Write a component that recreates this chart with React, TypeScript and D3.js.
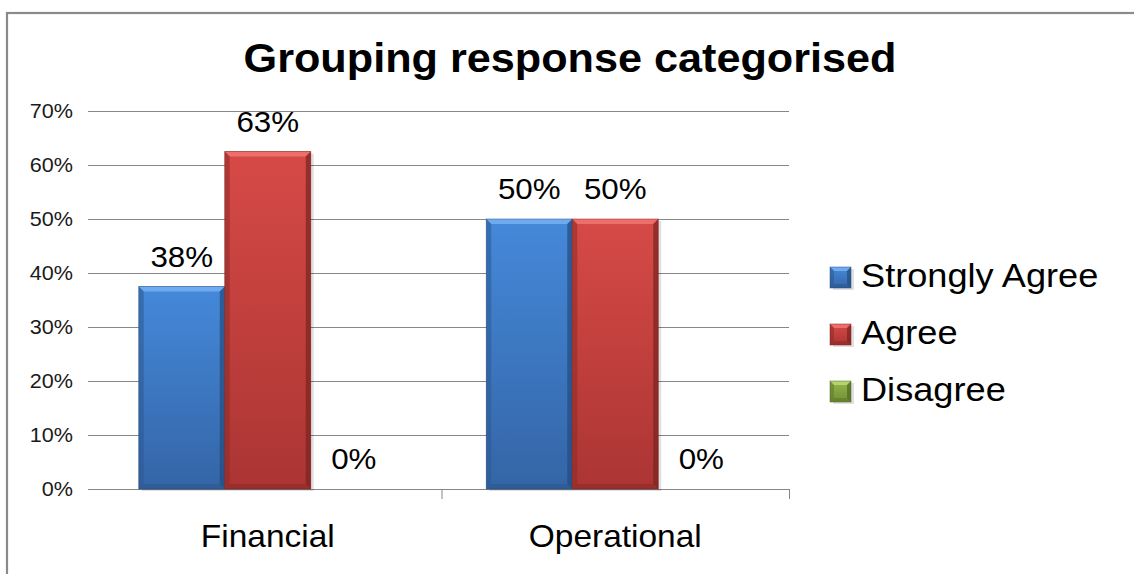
import React from "react";
import * as d3 from "d3";

const title = "Grouping response categorised";
const categories = ["Financial", "Operational"];
const seriesNames = ["Strongly Agree", "Agree", "Disagree"];
const strongly = [0.375, 0.5];
const agree = [0.625, 0.5];
const disagree = [0, 0];
const yTicks = [0, 0.1, 0.2, 0.3, 0.4, 0.5, 0.6, 0.7];

const W = 1134, H = 574;
const SX = 1.08;
const FONT = "'Liberation Sans', Arial, sans-serif";

const palette = [
  { light: "#6eaaf0", top: "#4589da", bottom: "#3465a6", edge: "#2b5790", dark: "#244b7e" },
  { light: "#ee6e6b", top: "#d64a47", bottom: "#ab3533", edge: "#8f2927", dark: "#7a2220" },
  { light: "#b5d46e", top: "#93b64c", bottom: "#728f36", edge: "#5f7a2b", dark: "#4f6624" },
];

function Bevel({ x, y, w, h, c, id, b = 5 }: any) {
  if (h <= 0) return null;
  const bb = Math.min(b, h / 2, w / 2);
  return (
    <g>
      <rect x={x + 3} y={y + 2} width={w} height={h} fill="#000" opacity={0.12} />
      <rect x={x} y={y} width={w} height={h} fill={`url(#${id})`} />
      <polygon points={`${x},${y} ${x + w},${y} ${x + w - bb},${y + bb} ${x + bb},${y + bb}`} fill={c.light} />
      <polygon points={`${x},${y} ${x + bb},${y + bb} ${x + bb},${y + h - bb} ${x},${y + h}`} fill={c.edge} opacity={0.55} />
      <polygon points={`${x + w},${y} ${x + w - bb},${y + bb} ${x + w - bb},${y + h - bb} ${x + w},${y + h}`} fill={c.dark} opacity={0.7} />
      <polygon points={`${x},${y + h} ${x + bb},${y + h - bb} ${x + w - bb},${y + h - bb} ${x + w},${y + h}`} fill={c.edge} opacity={0.6} />
      <rect x={x} y={y} width={w} height={h} fill="none" stroke={c.dark} strokeWidth={0.8} opacity={0.6} />
    </g>
  );
}

function T({ x, y, size, anchor = "start", bold = false, children, fill = "#000" }: any) {
  return (
    <text
      transform={`translate(${x},${y}) scale(${SX},1)`}
      fontSize={size}
      fontFamily={FONT}
      fontWeight={bold ? "bold" : "normal"}
      textAnchor={anchor}
      fill={fill}
    >
      {children}
    </text>
  );
}

export default function App() {
  const y = d3.scaleLinear().domain([0, 0.7]).range([489, 111]);
  const x0 = d3.scaleBand().domain(categories).range([94, 789]).paddingInner(0).paddingOuter(0);
  const groupW = 258;
  const x1 = d3.scaleBand().domain(seriesNames).range([0, groupW]).padding(0);
  const values = [strongly, agree, disagree];
  const fmt = d3.format(".0%");
  const gridLeft = 88;

  return (
    <svg width={W} height={H} style={{ position: "absolute", left: 0, top: 0, display: "block" }}>
      <defs>
        {palette.map((c, i) => (
          <linearGradient key={i} id={`g${i}`} x1="0" y1="0" x2="0" y2="1">
            <stop offset="0%" stopColor={c.top} />
            <stop offset="100%" stopColor={c.bottom} />
          </linearGradient>
        ))}
      </defs>
      <rect x={0} y={0} width={W} height={H} fill="#fff" />
      <rect x={7} y={13} width={W + 20} height={H + 20} fill="#fff" stroke="#8a8a8a" strokeWidth={2.2} />

      <T x={570} y={72} size={40} anchor="middle" bold>{title}</T>

      {yTicks.map((t) => (
        <g key={t}>
          <line x1={gridLeft} x2={789} y1={Math.round(y(t)) + 0.5} y2={Math.round(y(t)) + 0.5} stroke="#878787" strokeWidth={1} />
          <T x={73} y={y(t) + 7} size={20} anchor="end" fill="#1a1a1a">{fmt(t)}</T>
        </g>
      ))}
      {categories.slice(1).concat(["end"]).map((c, i) => {
        const xx = i === 0 ? x0(categories[1])! : 789;
        return <line key={c} x1={xx + 0.5} x2={xx + 0.5} y1={489} y2={499} stroke="#878787" />;
      })}

      {categories.map((cat, ci) => {
        const gx = x0(cat)! + (x0.bandwidth() - groupW) / 2;
        return (
          <g key={cat}>
            {seriesNames.map((s, si) => {
              const v = values[si][ci];
              const bx = gx + x1(s)!;
              const bw = x1.bandwidth();
              const top = y(v);
              return (
                <g key={s}>
                  <Bevel x={bx} y={top} w={bw} h={y(0) - top} c={palette[si]} id={`g${si}`} />
                  <T x={bx + bw / 2} y={top - 20} size={29} anchor="middle">{fmt(Math.round(v * 100) / 100)}</T>
                </g>
              );
            })}
            <T x={x0(cat)! + x0.bandwidth() / 2} y={547} size={31} anchor="middle">{cat}</T>
          </g>
        );
      })}

      {seriesNames.map((s, i) => {
        const ly = 267 + i * 57;
        return (
          <g key={s}>
            <Bevel x={830} y={ly} w={21} h={21} c={palette[i]} id={`g${i}`} b={4} />
            <T x={861} y={ly + 20} size={33.5}>{s}</T>
          </g>
        );
      })}
    </svg>
  );
}
